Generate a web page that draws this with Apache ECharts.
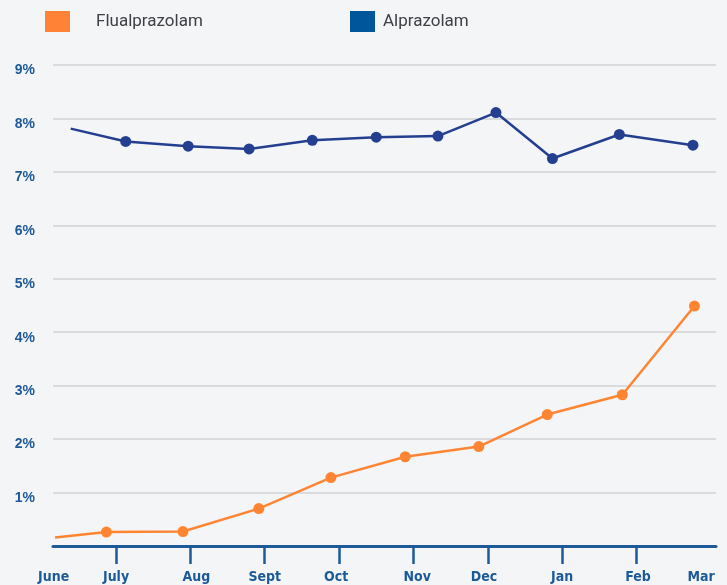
<!DOCTYPE html>
<html>
<head>
<meta charset="utf-8">
<script src="https://cdn.jsdelivr.net/npm/echarts@6/dist/echarts.min.js"></script>
<style>
html,body{margin:0;padding:0;background:#f4f5f7;}
#c{width:727px;height:585px;}
</style>
</head>
<body>
<div id="c"></div>
<script>
// Month names along the x axis (index 0 = June ... 9 = March)
const months = ['June','July','Aug','Sept','Oct','Nov','Dec','Jan','Feb','Mar'];
// Tick positions (month index) and label positions (month index)
const tickMonths = [1,2,3,4,5,6,7,8];
const labelMonths = [0.16,1,2.08,3,3.96,5.05,5.95,7,8.02,8.87];
// Y-axis tick labels
const yTicks = [1,2,3,4,5,6,7,8,9];

// Flualprazolam: month position and share (%)
const fluaX = [0.18,0.87,1.90,2.92,3.89,4.89,5.88,6.80,7.81,8.78];
const fluaY = [0.16,0.26,0.27,0.70,1.28,1.67,1.86,2.46,2.83,4.49];
// Alprazolam: month position and share (%)
const alprX = [0.39,1.13,1.97,2.79,3.64,4.50,5.33,6.11,6.87,7.77,8.76];
const alprY = [7.81,7.57,7.48,7.43,7.59,7.65,7.67,8.11,7.25,7.70,7.50];

function pts(xs, ys){
  return xs.map((x,i)=> i===0 ? {value:[x,ys[i]], symbol:'none'} : [x,ys[i]]);
}

const axisBlue = '#1d5a98';
const chart = echarts.init(document.getElementById('c'));
chart.setOption({
  backgroundColor:'#f4f5f7',
  animation:false,
  legend:[
    {left:40, top:6, itemWidth:25, itemHeight:21, icon:'rect',
     data:[{name:'Flualprazolam', itemStyle:{color:'#ff8236'}}],
     textStyle:{fontFamily:'Roboto', fontSize:17, color:'#3d4045', padding:[0,0,12,21]}},
    {left:345, top:6, itemWidth:25, itemHeight:21, icon:'rect',
     data:[{name:'Alprazolam', itemStyle:{color:'#00569a'}}],
     textStyle:{fontFamily:'Roboto', fontSize:17, color:'#3d4045', padding:[0,0,12,3]}}
  ],
  grid:{left:53, right:11, top:65, bottom:39, containLabel:false},
  xAxis:{
    type:'value', min:0.152, max:9.07,
    splitLine:{show:false},
    axisLine:{show:true, lineStyle:{color:axisBlue, width:3}},
    axisTick:{show:true, customValues:tickMonths, length:18, lineStyle:{color:axisBlue, width:2.5}},
    axisLabel:{customValues:labelMonths, margin:24,
      formatter:v=>months[Math.round(v)],
      fontFamily:'DejaVu Sans Condensed, Liberation Sans, sans-serif', fontWeight:'bold', fontSize:14, color:axisBlue}
  },
  yAxis:{
    type:'value', min:0, max:9, interval:1,
    axisLine:{show:false}, axisTick:{show:false},
    splitLine:{show:true, lineStyle:{color:'#dadbdd', width:2}},
    axisLabel:{showMinLabel:false, margin:18, verticalAlign:'top', lineHeight:11,
      formatter:v=> yTicks.includes(v) ? v+'%' : '',
      fontFamily:'Liberation Sans', fontWeight:'bold', fontSize:14, color:axisBlue}
  },
  series:[
    {name:'Flualprazolam', type:'line', data:pts(fluaX,fluaY), clip:false,
     symbol:'circle', symbolSize:11,
     lineStyle:{color:'#ff8533', width:2.5}, itemStyle:{color:'#ff8533'}},
    {name:'Alprazolam', type:'line', data:pts(alprX,alprY), clip:false,
     symbol:'circle', symbolSize:11,
     lineStyle:{color:'#243f8f', width:2.5}, itemStyle:{color:'#243f8f'}}
  ]
});
</script>
</body>
</html>
